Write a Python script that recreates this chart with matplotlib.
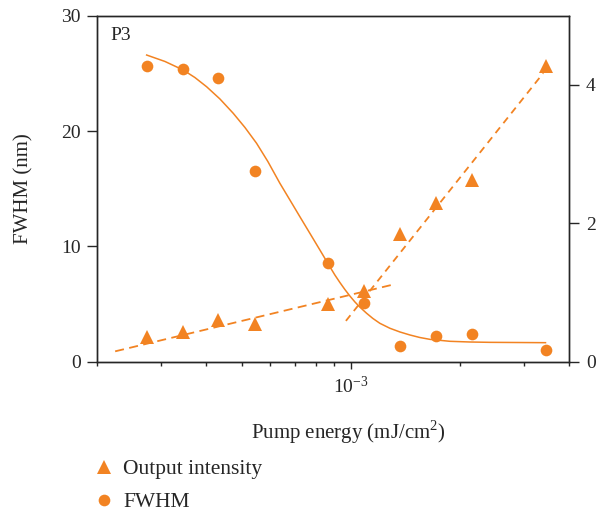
import matplotlib
matplotlib.use("Agg")
import matplotlib.pyplot as plt
from matplotlib.lines import Line2D
from matplotlib.ticker import NullFormatter, FixedLocator

plt.rcParams['font.family'] = ['Liberation Serif', 'DejaVu Serif']
plt.rcParams['mathtext.fontset'] = 'custom'
plt.rcParams['mathtext.rm'] = 'Liberation Serif'
plt.rcParams['font.size'] = 14

orange = '#F28322'
dark = '#262626'

# measured points: pump energy (mJ/cm^2), linewidth (nm), output intensity (a.u.)
energy = [2.74e-4, 3.44e-4, 4.31e-4, 5.44e-4, 8.66e-4,
          1.088e-3, 1.37e-3, 1.72e-3, 2.16e-3, 3.44e-3]
fwhm = [25.6, 25.4, 24.6, 16.5, 8.6, 5.1, 1.4, 2.2, 2.4, 1.0]
intensity = [0.36, 0.43, 0.61, 0.54, 0.83, 1.02, 1.84, 2.30, 2.62, 4.28]

# sigmoid fit of the FWHM
fit_energy = [2.736e-4, 3.074e-4, 3.451e-4, 3.716e-4, 4.003e-4, 4.356e-4,
              4.739e-4, 5.105e-4, 5.496e-4, 5.904e-4, 6.373e-4, 6.792e-4,
              7.236e-4, 7.710e-4, 8.214e-4, 8.750e-4, 9.034e-4, 9.326e-4,
              9.627e-4, 9.936e-4, 1.026e-3, 1.059e-3, 1.105e-3, 1.150e-3,
              1.202e-3, 1.281e-3, 1.365e-3, 1.454e-3, 1.549e-3, 1.651e-3,
              1.874e-3, 2.127e-3, 2.415e-3, 3.439e-3]
fit_fwhm = [26.59, 26.03, 25.29, 24.64, 23.84, 22.78, 21.54, 20.31, 18.94,
            17.36, 15.47, 14.02, 12.57, 11.13, 9.69, 8.24, 7.52, 6.87, 6.26,
            5.70, 5.18, 4.73, 4.20, 3.75, 3.33, 2.90, 2.58, 2.32, 2.10, 1.94,
            1.77, 1.71, 1.68, 1.65]

# linear trends of output intensity below / above threshold
low_energy = [2.24e-4, 1.32e-3]
low_trend = [0.15, 1.12]
high_energy = [9.69e-4, 3.39e-3]
high_trend = [0.59, 4.17]

fig = plt.figure(figsize=(6.05, 5.13), dpi=100)
ax = fig.add_axes([0.1608, 0.2949, 0.7802, 0.6745])
ax2 = ax.twinx()

ax.plot(fit_energy, fit_fwhm, color=orange, lw=1.1, zorder=2)
ax.plot(energy, fwhm, 'o', color=orange, ms=8.4, mew=0, zorder=3)

ax2.plot(low_energy, low_trend, color=orange, lw=1.3, dashes=(5, 3))
ax2.plot(high_energy, high_trend, color=orange, lw=1.3, dashes=(4, 3))
ax2.plot(energy, intensity, '^', color=orange, ms=10, mew=0)

ax.set_xscale('log')
ax.set_xlim(2e-4, 4e-3)
ax.set_ylim(0, 30)
ax2.set_ylim(0, 5)
ax.xaxis.set_major_locator(FixedLocator([1e-3]))
ax.xaxis.set_minor_formatter(NullFormatter())
ax.set_yticks([0, 10, 20, 30])
ax2.set_yticks([0, 2, 4])

for a in (ax, ax2):
    for s in a.spines.values():
        s.set_color(dark)
        s.set_linewidth(1.0)
ax.tick_params(axis='y', which='both', direction='out', length=7, width=1,
               color=dark, pad=5, labelcolor=dark)
ax.tick_params(axis='x', which='major', direction='out', length=5, width=1,
               color=dark, pad=5, labelcolor=dark)
ax.tick_params(axis='x', which='minor', direction='out', length=3, width=1,
               color=dark)
ax2.tick_params(axis='y', direction='out', length=7, width=1, color=dark,
                pad=5, labelcolor=dark)

ax.set_xlabel('Pump energy (mJ/cm$^2$)', color=dark, fontsize=15)
ax.xaxis.set_label_coords(0.531, -0.163)
ax.set_ylabel('FWHM (nm)', color=dark, fontsize=15)
ax.yaxis.set_label_coords(-0.136, 0.5)

ax.text(0.027, 0.944, 'P3', transform=ax.transAxes, va='center', ha='left',
        color=dark, fontsize=14)

handles = [Line2D([], [], ls='none', marker='^', color=orange, ms=10, mew=0),
           Line2D([], [], ls='none', marker='o', color=orange, ms=8.4, mew=0)]
fig.legend(handles, ['Output intensity', 'FWHM'], loc='upper left',
           bbox_to_anchor=(0.154, 0.105), frameon=False, borderpad=0,
           borderaxespad=0, handlelength=1.0, handletextpad=0.4,
           labelspacing=0.6, labelcolor=dark, fontsize=15.5)

fig.savefig('out.png', dpi=100)
